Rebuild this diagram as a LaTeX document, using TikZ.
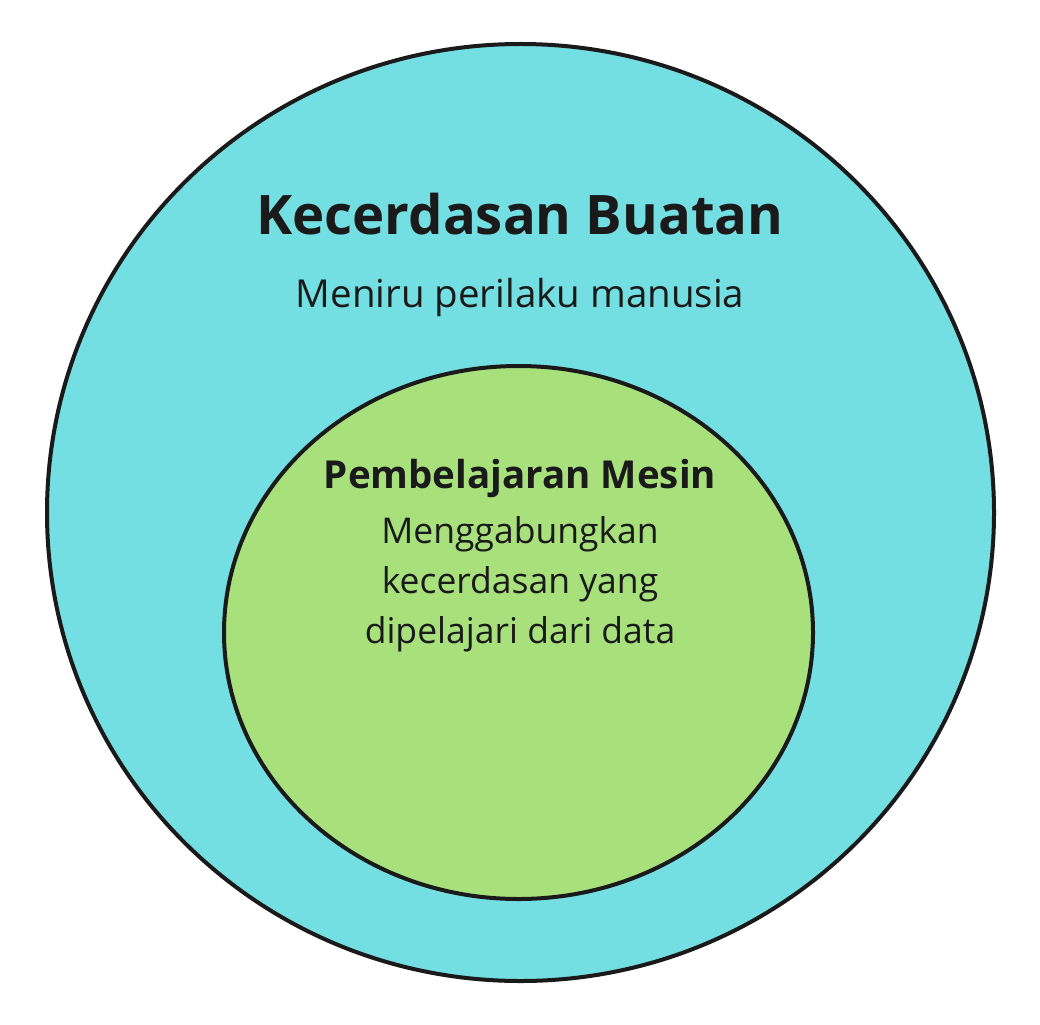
\documentclass[tikz,border=0pt]{standalone}
\usepackage{fontspec}
\setmainfont{Open Sans}
\definecolor{outerfill}{HTML}{74DFE2}
\definecolor{innerfill}{HTML}{A8E07C}
\definecolor{inkc}{HTML}{1A1A1A}
\begin{document}
\begin{tikzpicture}[x=1pt,y=-1pt,
  ring/.style={draw=inkc,line width=4pt},
  lbl/.style={anchor=base,inner sep=0pt,text=inkc}]
\useasboundingbox (0,0) rectangle (1040,1024);
\fill[white] (0,0) rectangle (1040,1024);
\draw[ring,fill=outerfill] (520.5,512.5) ellipse [x radius=473.5, y radius=468.5];
\draw[ring,fill=innerfill] (518.5,632.5) ellipse [x radius=294.5, y radius=266.5];
\node[lbl,font=\fontsize{54.5}{60}\selectfont\bfseries] (t1) at (520,235) {Kecerdasan Buatan};
\node[lbl,font=\fontsize{38.5}{44}\selectfont] (t2) at (520,307) {Meniru perilaku manusia};
\node[lbl,font=\fontsize{38.5}{44}\selectfont\bfseries] (t3) at (520,488) {Pembelajaran Mesin};
\node[lbl,font=\fontsize{35.5}{40}\selectfont] (t4) at (520,543) {Menggabungkan};
\node[lbl,font=\fontsize{35.5}{40}\selectfont] (t5) at (520,593) {kecerdasan yang};
\node[lbl,font=\fontsize{35.5}{40}\selectfont] (t6) at (520,643) {dipelajari dari data};
\end{tikzpicture}
\end{document}
